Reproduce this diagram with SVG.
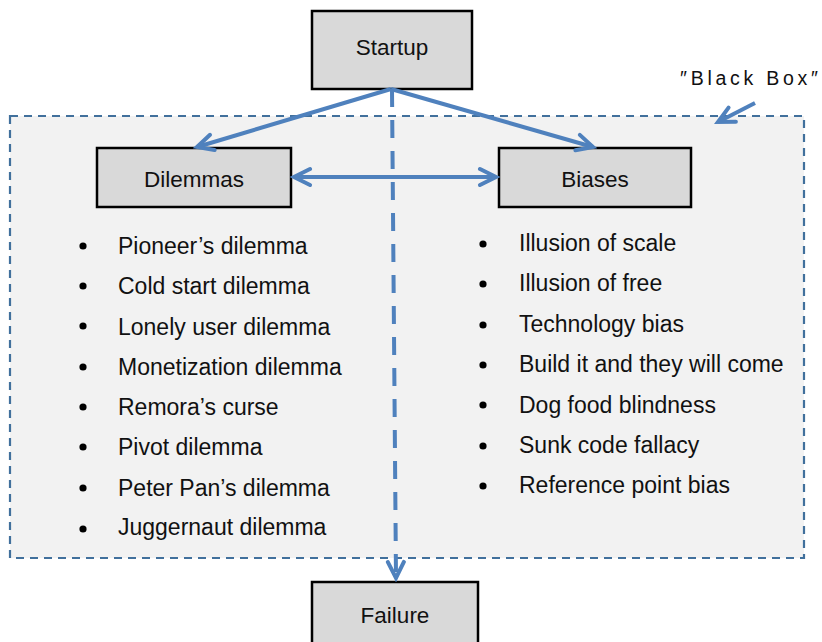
<svg xmlns="http://www.w3.org/2000/svg" width="822" height="642" viewBox="0 0 822 642">
<style>
.box{fill:#d9d9d9;stroke:#000;stroke-width:2.5}
.lbl{font-family:"Liberation Sans",Arial,sans-serif;font-size:22.5px;fill:#111;text-anchor:middle}
.item{font-family:"Liberation Sans",Arial,sans-serif;font-size:23px;fill:#111}
.conn{stroke:#4f81bd;stroke-width:4;fill:none}
.dash{stroke-dasharray:18 13}
</style>
<defs>
<marker id="ah" markerUnits="userSpaceOnUse" viewBox="-22 -12 26 24" refX="0" refY="0" markerWidth="26" markerHeight="24" orient="auto-start-reverse">
<path d="M-16,-8 L0,0 L-16,8" fill="none" stroke="#4f81bd" stroke-width="4" stroke-linecap="round" stroke-linejoin="miter"/>
</marker>
</defs>
<rect width="822" height="642" fill="#fff"/>
<g id="blackbox">
<rect x="10" y="116" width="794" height="442" fill="#f2f2f2" stroke="#41709c" stroke-width="2.2" stroke-dasharray="8 6"/>
<text x="680" y="85" font-family="'Liberation Sans',Arial,sans-serif" font-size="19.5" fill="#111" textLength="138" lengthAdjust="spacing">″Black Box″</text>
</g>
<g id="startup">
<rect class="box" x="312" y="11" width="160" height="78"/>
<text class="lbl" x="392" y="55">Startup</text>
</g>
<g id="dilemmas">
<rect class="box" x="97" y="148" width="194" height="59"/>
<text class="lbl" x="194" y="187">Dilemmas</text>
<g>
<circle cx="83" cy="246" r="3.6" fill="#000"/><text class="item" x="118" y="254">Pioneer’s dilemma</text>
<circle cx="83" cy="286" r="3.6" fill="#000"/><text class="item" x="118" y="294">Cold start dilemma</text>
<circle cx="83" cy="326" r="3.6" fill="#000"/><text class="item" x="118" y="334.5">Lonely user dilemma</text>
<circle cx="83" cy="367" r="3.6" fill="#000"/><text class="item" x="118" y="374.5">Monetization dilemma</text>
<circle cx="83" cy="407" r="3.6" fill="#000"/><text class="item" x="118" y="415">Remora’s curse</text>
<circle cx="83" cy="447" r="3.6" fill="#000"/><text class="item" x="118" y="455">Pivot dilemma</text>
<circle cx="83" cy="488" r="3.6" fill="#000"/><text class="item" x="118" y="495.5">Peter Pan’s dilemma</text>
<circle cx="83" cy="529" r="3.6" fill="#000"/><text class="item" x="118" y="535">Juggernaut dilemma</text>
</g>
</g>
<g id="biases">
<rect class="box" x="499" y="148" width="192" height="59"/>
<text class="lbl" x="595" y="187">Biases</text>
<g>
<circle cx="483" cy="244" r="3.6" fill="#000"/><text class="item" x="519" y="251">Illusion of scale</text>
<circle cx="483" cy="284" r="3.6" fill="#000"/><text class="item" x="519" y="291">Illusion of free</text>
<circle cx="483" cy="325" r="3.6" fill="#000"/><text class="item" x="519" y="332">Technology bias</text>
<circle cx="483" cy="365" r="3.6" fill="#000"/><text class="item" x="519" y="372">Build it and they will come</text>
<circle cx="483" cy="405" r="3.6" fill="#000"/><text class="item" x="519" y="412.5">Dog food blindness</text>
<circle cx="483" cy="446" r="3.6" fill="#000"/><text class="item" x="519" y="453">Sunk code fallacy</text>
<circle cx="483" cy="486" r="3.6" fill="#000"/><text class="item" x="519" y="493">Reference point bias</text>
</g>
</g>
<g id="failure">
<rect class="box" x="312" y="582" width="166" height="80"/>
<text class="lbl" x="395" y="623">Failure</text>
</g>
<g id="connectors">
<line class="conn" x1="391" y1="89" x2="197" y2="147" marker-end="url(#ah)"/>
<line class="conn" x1="391" y1="89" x2="593" y2="147" marker-end="url(#ah)"/>
<line class="conn" x1="294" y1="177" x2="496" y2="177" marker-start="url(#ah)" marker-end="url(#ah)"/>
<line class="conn dash" x1="392" y1="89" x2="396" y2="578" marker-end="url(#ah)"/>
<line class="conn" x1="755" y1="103" x2="718" y2="122" marker-end="url(#ah)"/>
</g>
</svg>
